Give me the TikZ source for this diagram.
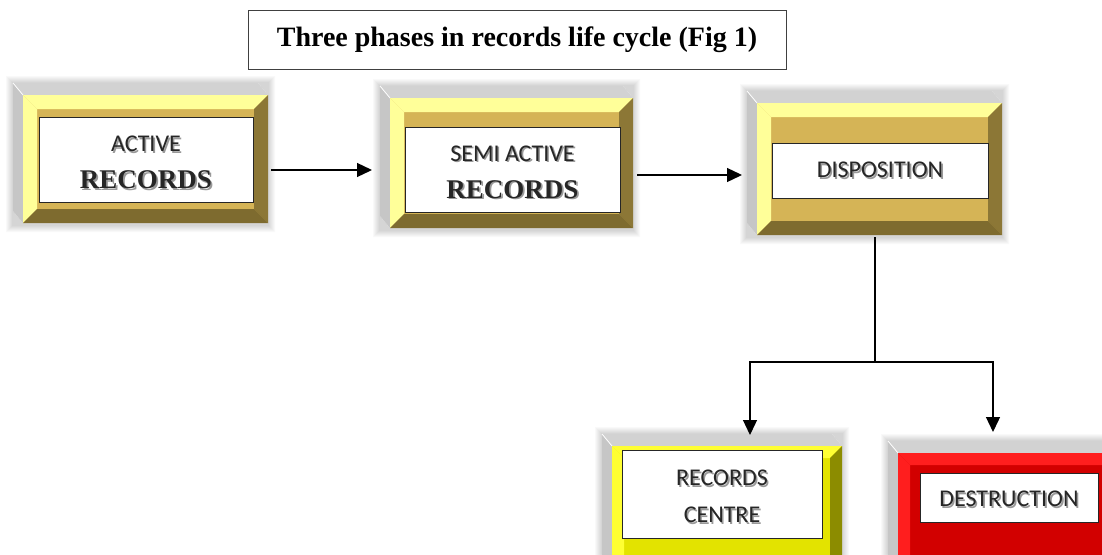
\documentclass[tikz,border=0pt]{standalone}
\usepackage{fontspec}
\setmainfont{Liberation Serif}
\newfontfamily\labelfont{Carlito}
\usetikzlibrary{calc,arrows.meta}

\definecolor{goldlight}{HTML}{FFFF99}
\definecolor{goldface}{HTML}{D5B456}
\definecolor{goldright}{HTML}{8C7736}
\definecolor{goldbottom}{HTML}{7E6B2F}
\definecolor{yellight}{HTML}{FFFF33}
\definecolor{yelface}{HTML}{E3E300}
\definecolor{yelright}{HTML}{8C8C00}
\definecolor{yelbottom}{HTML}{7A7A00}
\definecolor{redlight}{HTML}{FF1E1E}
\definecolor{redface}{HTML}{D20000}
\definecolor{redright}{HTML}{9A0000}
\definecolor{redbottom}{HTML}{7E0000}
\definecolor{sidetop}{HTML}{D2D2D2}
\definecolor{sideleft}{HTML}{C6C6C6}
\definecolor{inktext}{HTML}{262626}

% text with a soft grey drop shadow
\newcommand\shtext[1]{\leavevmode\rlap{\hspace{1.6pt}\raisebox{-1.6pt}{\color{black!40}#1}}#1}

% bevelled 3-D frame around a face node: #1 node, #2 light bevel,
% #3 right bevel, #4 bottom bevel, #5 bevel width
\newcommand\bevelframe[5]{%
  % soft halo around the whole block
  \foreach \g in {1,...,7}{
    \fill[black, opacity=0.022, even odd rule]
      ($(#1.north west)+(-10-\g,-12-\g)$) rectangle ($(#1.south east)+(\g,\g+2)$)
      ($(#1.north west)+(-10,-12)$) -- ($(#1.north east)+(-10,-12)$) -- (#1.north east)
      -- (#1.south east) -- (#1.south west) -- ($(#1.south west)+(-10,-12)$) -- cycle;
  }
  \fill[sideleft] (#1.north west) -- ++(-10,-12) -- ($(#1.south west)+(-10,-12)$) -- (#1.south west) -- cycle;
  \fill[sidetop] (#1.north west) -- ++(-10,-12) -- ($(#1.north east)+(-10,-12)$) -- (#1.north east) -- cycle;
  \draw[white, line width=0.8pt] (#1.north west) -- ++(-10,-12);
  \fill[#2] (#1.north west) -- (#1.north east) -- ($(#1.north east)+(-#5,#5)$) -- ($(#1.north west)+(#5,#5)$) -- cycle;
  \fill[#2] (#1.north west) -- (#1.south west) -- ($(#1.south west)+(#5,-#5)$) -- ($(#1.north west)+(#5,#5)$) -- cycle;
  \fill[#3] (#1.north east) -- (#1.south east) -- ($(#1.south east)+(-#5,-#5)$) -- ($(#1.north east)+(-#5,#5)$) -- cycle;
  \fill[#4] (#1.south west) -- (#1.south east) -- ($(#1.south east)+(-#5,-#5)$) -- ($(#1.south west)+(#5,-#5)$) -- cycle;
}

\tikzset{
  face/.style={inner sep=0pt, outer sep=0pt},
  panel/.style={fill=white, draw=black!85, line width=0.8pt, inner sep=0pt},
  caption/.style={inner sep=0pt, align=center, text=inktext,
    font=\labelfont\fontsize{24}{37}\selectfont},
  arr/.style={line width=1.3pt, -{Triangle[length=15pt,width=14pt]}},
  link/.style={line width=1.1pt},
}

\newcommand\serifword[1]{{\rmfamily\bfseries\fontsize{27}{37}\selectfont\shtext{#1}}}

\begin{document}
\begin{tikzpicture}[x=1pt,y=-1pt]
\useasboundingbox (0,0) rectangle (1102,554);
\clip (0,0) rectangle (1102,554);
\fill[white] (0,0) rectangle (1102,554);

% title
\node[draw=black!75, line width=0.9pt, minimum width=538pt, minimum height=59pt,
  font=\bfseries\fontsize{28}{32}\selectfont] (title) at (517,40)
  {Three phases in records life cycle (Fig 1)};

% active records
\node[face, fill=goldface, minimum width=245pt, minimum height=128pt] (active) at (145.5,159) {};
\bevelframe{active}{goldlight}{goldright}{goldbottom}{14}
\node[panel, minimum width=214pt, minimum height=85pt] (activep) at (146,159.5) {};
\node[caption] (activet) at ([yshift=-4pt]activep.center) {\shtext{ACTIVE}\\\serifword{RECORDS}};

% semi active records
\node[face, fill=goldface, minimum width=243pt, minimum height=130pt] (semi) at (511.5,163) {};
\bevelframe{semi}{goldlight}{goldright}{goldbottom}{14}
\node[panel, minimum width=215pt, minimum height=85pt] (semip) at (512.5,169.5) {};
\node[caption] (semit) at ([yshift=-3.5pt]semip.center) {\shtext{SEMI ACTIVE}\\\serifword{RECORDS}};

% disposition
\node[face, fill=goldface, minimum width=245pt, minimum height=132pt] (disp) at (879.5,169) {};
\bevelframe{disp}{goldlight}{goldright}{goldbottom}{14}
\node[panel, minimum width=216pt, minimum height=55pt] (dispp) at (880,170.5) {};
\node[caption] (dispt) at (dispp.center) {\shtext{DISPOSITION}};

% records centre
\node[face, fill=yelface, minimum width=230pt, minimum height=130pt] (centre) at (727,511) {};
\bevelframe{centre}{yellight}{yelright}{yelbottom}{12}
\node[panel, minimum width=200pt, minimum height=88pt] (centrep) at (722,494) {};
\node[caption] (centret) at ([yshift=-3.5pt]centrep.center) {\shtext{RECORDS}\\\shtext{CENTRE}};

% destruction
\node[face, fill=redface, minimum width=242pt, minimum height=130pt] (dest) at (1019,518) {};
\bevelframe{dest}{redlight}{redright}{redbottom}{12}
\node[panel, minimum width=178pt, minimum height=49pt] (destp) at (1009,497.5) {};
\node[caption] (destt) at ([yshift=-2.5pt]destp.center) {\shtext{DESTRUCTION}};

% flow between phases
\draw[arr] ([shift={(3,11)}]active.east) -- ([shift={(-18,7)}]semi.west);
\draw[arr] ([shift={(4,12)}]semi.east) -- ([shift={(-15,6)}]disp.west);

% branch below disposition
\coordinate (split) at (875,362);
\draw[link] ([shift={(-4.5,2)}]disp.south) -- (split);
\draw[arr] (split) -| ([shift={(23,-11)}]centre.north);
\draw[arr] (split) -| ([shift={(-26,-21)}]dest.north);
\end{tikzpicture}
\end{document}
